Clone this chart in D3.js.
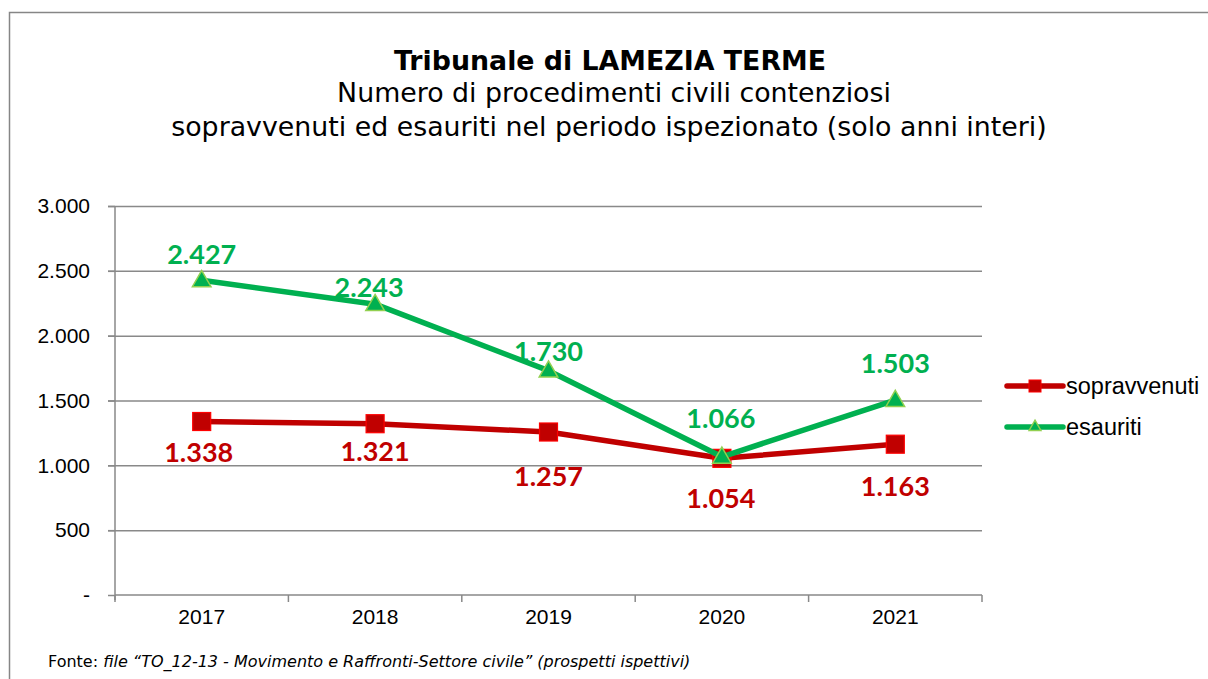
<!DOCTYPE html>
<html><head><meta charset="utf-8">
<script src="https://cdn.jsdelivr.net/npm/d3@7"></script>
<style>body{margin:0;background:#fff;} svg{display:block;}</style>
</head><body>
<svg id="chart" width="1208" height="679"></svg>
<script>
const years = ["2017","2018","2019","2020","2021"];
const sopravvenuti = [1338,1321,1257,1054,1163];
const esauriti = [2427,2243,1730,1066,1503];
const yTicks = [0,500,1000,1500,2000,2500,3000];
const seriesNames = ["sopravvenuti","esauriti"];
const titleLines = ["Tribunale di LAMEZIA TERME","Numero di procedimenti civili contenziosi","sopravvenuti ed esauriti nel periodo ispezionato (solo anni interi)"];

// label placement offsets (dx, dy) relative to the point
const redLabelOff = [[-3,30],[0,27],[0,43],[-1,39],[0,41]];
const greenLabelOff = [[0,-27],[-6,-18],[0,-20],[-1,-39],[0,-38]];

const svg = d3.select("#chart");
const fmt = v => v === 0 ? "-" : d3.format(",")(v).replace(/,/g,".");

// frame
svg.append("path").attr("d","M9.5,679 L9.5,12.5 L1208,12.5").attr("fill","none").attr("stroke","#868686").attr("stroke-width",1.5);

// titles
svg.append("text").attr("x",610).attr("y",70).attr("text-anchor","middle")
  .style("font-family","'DejaVu Sans'").style("font-weight","bold").style("font-size","26.8px").text(titleLines[0]);
svg.append("text").attr("x",614).attr("y",102).attr("text-anchor","middle")
  .style("font-family","'DejaVu Sans'").style("font-size","26.8px").text(titleLines[1]);
svg.append("text").attr("x",609).attr("y",136).attr("text-anchor","middle")
  .style("font-family","'DejaVu Sans'").style("font-size","26.8px").text(titleLines[2]);

const x = d3.scaleBand().domain(years).range([115,982]);
const y = d3.scaleLinear().domain([0,3000]).range([595,206]);
const cx = d => x(d) + x.bandwidth()/2;

// gridlines
svg.append("g").selectAll("line").data(yTicks.filter(t=>t>0)).join("line")
  .attr("x1",108).attr("x2",982).attr("y1",d=>y(d)+0.5).attr("y2",d=>y(d)+0.5)
  .attr("stroke","#898989").attr("stroke-width",1.5);

// y axis
const yAxis = svg.append("g").attr("transform","translate(115,0)")
  .call(d3.axisLeft(y).tickValues(yTicks).tickFormat(fmt).tickSize(7).tickPadding(18));
yAxis.select(".domain").attr("stroke","#898989").attr("stroke-width",1.5).attr("d","M0,206V600");
yAxis.selectAll(".tick line").attr("stroke","#898989").attr("stroke-width",1.5);
yAxis.selectAll("text").style("font-family","'Liberation Sans', Arial").style("font-size","21px").attr("fill","#000");

// x axis
const xAxis = svg.append("g").attr("transform","translate(0,595)")
  .call(d3.axisBottom(x).tickSize(0).tickPadding(14));
xAxis.select(".domain").attr("stroke","#898989").attr("stroke-width",1.5).attr("d","M115,0H982");
xAxis.selectAll("text").style("font-family","'Liberation Sans', Arial").style("font-size","21px").attr("fill","#000");
// band boundary ticks
const bounds = years.map(d=>x(d)).concat([x(years[years.length-1])+x.bandwidth()]);
svg.append("g").selectAll("line").data(bounds).join("line")
  .attr("x1",d=>d).attr("x2",d=>d).attr("y1",595).attr("y2",602)
  .attr("stroke","#898989").attr("stroke-width",1.5);

const red = "#C00000", redStroke = "#FF0000";
const green = "#00B050", greenStroke = "#92D050";
const line = d3.line().x((d,i)=>cx(years[i])).y(d=>y(d));

svg.append("path").datum(sopravvenuti).attr("d",line).attr("fill","none").attr("stroke",red).attr("stroke-width",5.5).attr("stroke-linejoin","round");
svg.append("g").selectAll("rect").data(sopravvenuti).join("rect")
  .attr("x",(d,i)=>cx(years[i])-9).attr("y",d=>y(d)-9).attr("width",18).attr("height",18)
  .attr("fill",red).attr("stroke",redStroke).attr("stroke-width",1.2);

svg.append("path").datum(esauriti).attr("d",line).attr("fill","none").attr("stroke",green).attr("stroke-width",5.5).attr("stroke-linejoin","round");
const tri = d3.symbol().type(d3.symbolTriangle).size(150);
svg.append("g").selectAll("path").data(esauriti).join("path")
  .attr("d",tri).attr("transform",(d,i)=>`translate(${cx(years[i])},${y(d)+1})`)
  .attr("fill",green).attr("stroke",greenStroke).attr("stroke-width",1.5);

// data labels
const labFont = "Lato, 'Open Sans', sans-serif";
svg.append("g").selectAll("text").data(sopravvenuti).join("text")
  .attr("x",(d,i)=>cx(years[i])+redLabelOff[i][0]).attr("y",(d,i)=>y(d)+redLabelOff[i][1])
  .attr("text-anchor","middle").attr("dominant-baseline","central")
  .style("font-family",labFont).style("font-weight","bold").style("font-size","27px")
  .attr("fill",red).text(fmt);
svg.append("g").selectAll("text").data(esauriti).join("text")
  .attr("x",(d,i)=>cx(years[i])+greenLabelOff[i][0]).attr("y",(d,i)=>y(d)+greenLabelOff[i][1])
  .attr("text-anchor","middle").attr("dominant-baseline","central")
  .style("font-family",labFont).style("font-weight","bold").style("font-size","27px")
  .attr("fill",green).text(fmt);

// legend
const leg = svg.append("g");
const legY = [386, 427];
const legColors = [red, green];
seriesNames.forEach((n,i)=>{
  leg.append("line").attr("x1",1007).attr("x2",1063).attr("y1",legY[i]).attr("y2",legY[i])
    .attr("stroke",legColors[i]).attr("stroke-width",5.5).attr("stroke-linecap","round");
  if(i===0){
    leg.append("rect").attr("x",1029).attr("y",legY[i]-6).attr("width",12).attr("height",12)
      .attr("fill",red).attr("stroke",redStroke).attr("stroke-width",1);
  } else {
    leg.append("path").attr("d",d3.symbol().type(d3.symbolTriangle).size(60))
      .attr("transform",`translate(1035,${legY[i]})`).attr("fill",green).attr("stroke",greenStroke).attr("stroke-width",1.5);
  }
  leg.append("text").attr("x",1066).attr("y",legY[i]).attr("dominant-baseline","central")
    .style("font-family","'Liberation Sans', Arial").style("font-size","23.5px").attr("fill","#000").text(n);
});

// footer
const foot = svg.append("text").attr("x",48).attr("y",667)
  .style("font-family","'DejaVu Sans'").style("font-size","16px").attr("fill","#000");
foot.append("tspan").text("Fonte: ");
foot.append("tspan").style("font-style","italic").text("file “TO_12-13 - Movimento e Raffronti-Settore civile” (prospetti ispettivi)");
</script>
</body></html>
